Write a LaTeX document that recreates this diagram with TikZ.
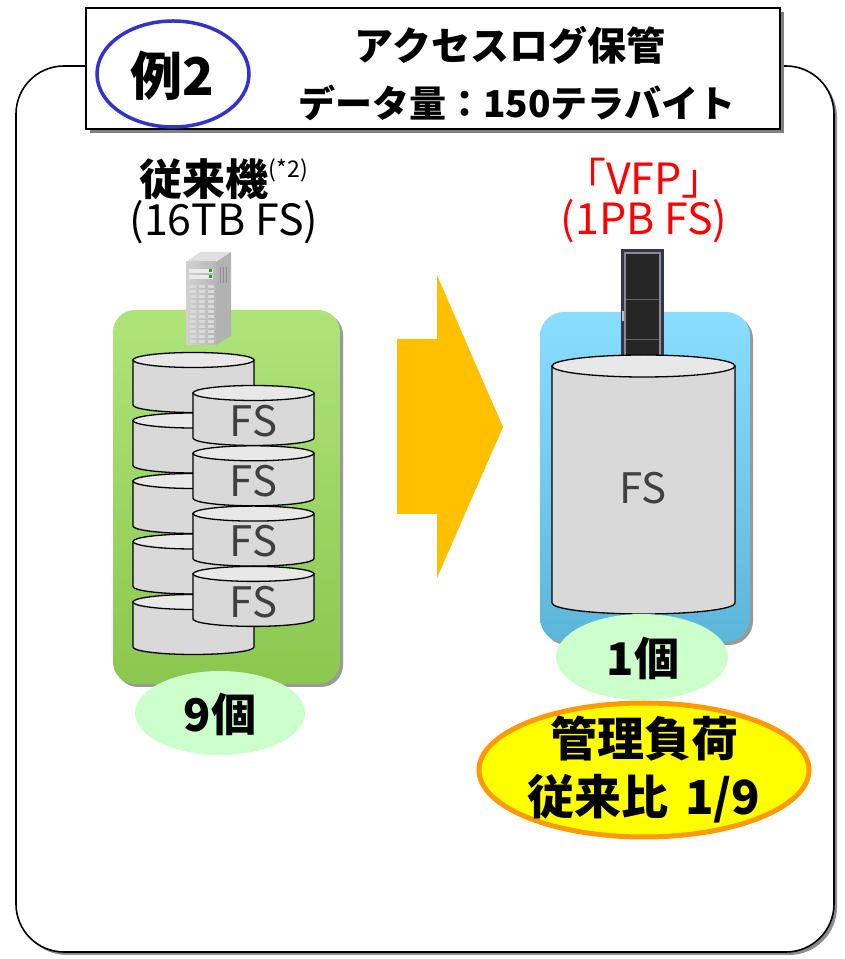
\documentclass[tikz,border=0pt]{standalone}
\usepackage{fontspec}
\setmainfont{Noto Sans CJK JP}
\usetikzlibrary{calc}

\definecolor{boxgreen}{HTML}{9BDD58}
\definecolor{boxblue}{HTML}{6CD6FF}
\definecolor{arrowgold}{HTML}{FFC000}
\definecolor{countgreen}{HTML}{CCFFCC}
\definecolor{loadfill}{HTML}{FFFF00}
\definecolor{loadrim}{HTML}{FF9900}
\definecolor{ringblue}{HTML}{3333CC}
\definecolor{fsgray}{HTML}{404040}

\tikzset{
    disk/.style={fill=black!15, draw=black, line width=1.3},
    disktop/.style={fill=black!9, draw=black, line width=1.3},
    fslabel/.style={font=\fontsize{42}{44}\selectfont, text=fsgray},
    bigtxt/.style={font=\fontsize{43}{48}\selectfont, align=center, inner sep=0},
    heavytxt/.style={bigtxt, font=\fontsize{45}{50}\selectfont\bfseries},
    countbub/.style={fill=countgreen, draw=none},
}

% cylinder: left x, right x, top y, bottom y, rim radius
\newcommand{\drawDisk}[5]{%
    \pgfmathsetmacro{\cx}{(#1+#2)/2}%
    \pgfmathsetmacro{\rx}{(#2-#1)/2}%
    \filldraw[disk] (#1,#3) -- (#1,#4)
        arc[start angle=180, end angle=360, x radius=\rx, y radius=#5]
        -- (#2,#3) -- cycle;
    \filldraw[disktop] (\cx,#3) ellipse[x radius=\rx, y radius=#5];
}

\begin{document}
\begin{tikzpicture}[x=1pt, y=1pt]
\useasboundingbox (0,0) rectangle (844,959);

% outer frame
\fill[black!45, rounded corners=48] (19,4) rectangle (837,890);
\draw[line width=1.6, fill=white, rounded corners=48] (16,7) rectangle (834,893);

% heading
\fill[black!50] (90,826) rectangle (784,947);
\draw[line width=1.6, fill=white] (86,830) rectangle (780,951);
\draw[ringblue, line width=3.5] (173,885) ellipse[x radius=76, y radius=53];
\node[heavytxt, font=\fontsize{52}{56}\selectfont\bfseries] (ex) at (172,883) {例2};
\node[heavytxt, font=\fontsize{39}{44}\selectfont\bfseries] (title) at (510,914) {アクセスログ保管};
\node[heavytxt, font=\fontsize{37}{44}\selectfont\bfseries] (volume) at (517,856) {データ量：150テラバイト};

% old machine
\node[bigtxt, font=\fontsize{43}{40}\selectfont] (oldlabel) at (224,758)
    {{\bfseries 従来機}\raisebox{0.42em}{\fontsize{23}{24}\selectfont(*2)}\\(16TB FS)};

\fill[black!40, rounded corners=22] (116,272) rectangle (343,646);
\shade[top color=boxgreen!80!white, bottom color=boxgreen!90!black, rounded corners=22]
    (113,275) rectangle (340,649);

% tower server
\fill[black!12] (186,697) -- (200,707) -- (231,707) -- (216,697) -- cycle;
\fill[black!30] (216,697) -- (231,707) -- (231,623) -- (216,614) -- cycle;
\shade[left color=black!18, right color=black!28] (186,614) rectangle (216,697);
\foreach \r in {0,1} {
    \fill[black!8] (189,690-6*\r) rectangle (213,686-6*\r);
    \fill[green!70!black] (209,689.5-6*\r) rectangle (212,686.5-6*\r);
}
\foreach \c in {0,1,2}
    \foreach \r in {0,...,11}
        \fill[white!85!black] (189.5+9*\c,674-5*\r) rectangle (196+9*\c,671-5*\r);
\foreach \x in {220,223,226}
    \draw[black!45, line width=0.8] (\x,692) -- (\x,676);

\foreach \i in {0,...,4} {
    \pgfmathsetmacro{\t}{599-60.5*\i}
    \drawDisk{133}{254}{\t}{\t-45}{7.5}
}
\foreach \i in {0,...,3} {
    \pgfmathsetmacro{\t}{566-60.3*\i}
    \drawDisk{193}{314}{\t}{\t-45}{7.5}
    \node[fslabel] (fs\i) at (253.5,\t-28) {FS};
}

\fill[countbub] (220,246) ellipse[x radius=85, y radius=42];
\node[heavytxt] (ninecount) at (220,245) {9個};

% migration arrow
\fill[arrowgold] (397,620) -- (437,620) -- (437,684) -- (503,532)
    -- (437,381) -- (437,445) -- (397,445) -- cycle;

% new system
\node[bigtxt, font=\fontsize{43}{40}\selectfont, text=red] (newlabel) at (644,758)
    {「VFP」\\(1PB FS)};

\fill[black!40, rounded corners=24] (543,314) rectangle (753,644);
\shade[top color=boxblue!80!white, bottom color=boxblue!85!black, rounded corners=24]
    (540,317) rectangle (750,647);

% rack
\fill[black!75!blue!60!gray] (621,589) rectangle (664,710);
\fill[black!85] (625,592) rectangle (660,706);
\draw[black!45, line width=1.2] (625,592) rectangle (660,706);
\foreach \y in {660,620}
    \draw[black!60, line width=0.6] (626,\y) -- (659,\y);
\fill[black!25] (621.5,638) rectangle (624,648);

\drawDisk{552}{735}{593}{356}{11}
\node[fslabel] (fsbig) at (643,471) {FS};

\fill[countbub] (642,302) ellipse[x radius=86, y radius=43];
\node[heavytxt] (onecount) at (643,301) {1個};

\filldraw[fill=loadfill, draw=loadrim, line width=5] (644,189) ellipse[x radius=165, y radius=67];
\node[heavytxt, font=\fontsize{47}{58}\selectfont\bfseries] (load) at (644,190)
    {管理負荷\\従来比\hspace{0.35em}1/9};
\end{tikzpicture}
\end{document}
